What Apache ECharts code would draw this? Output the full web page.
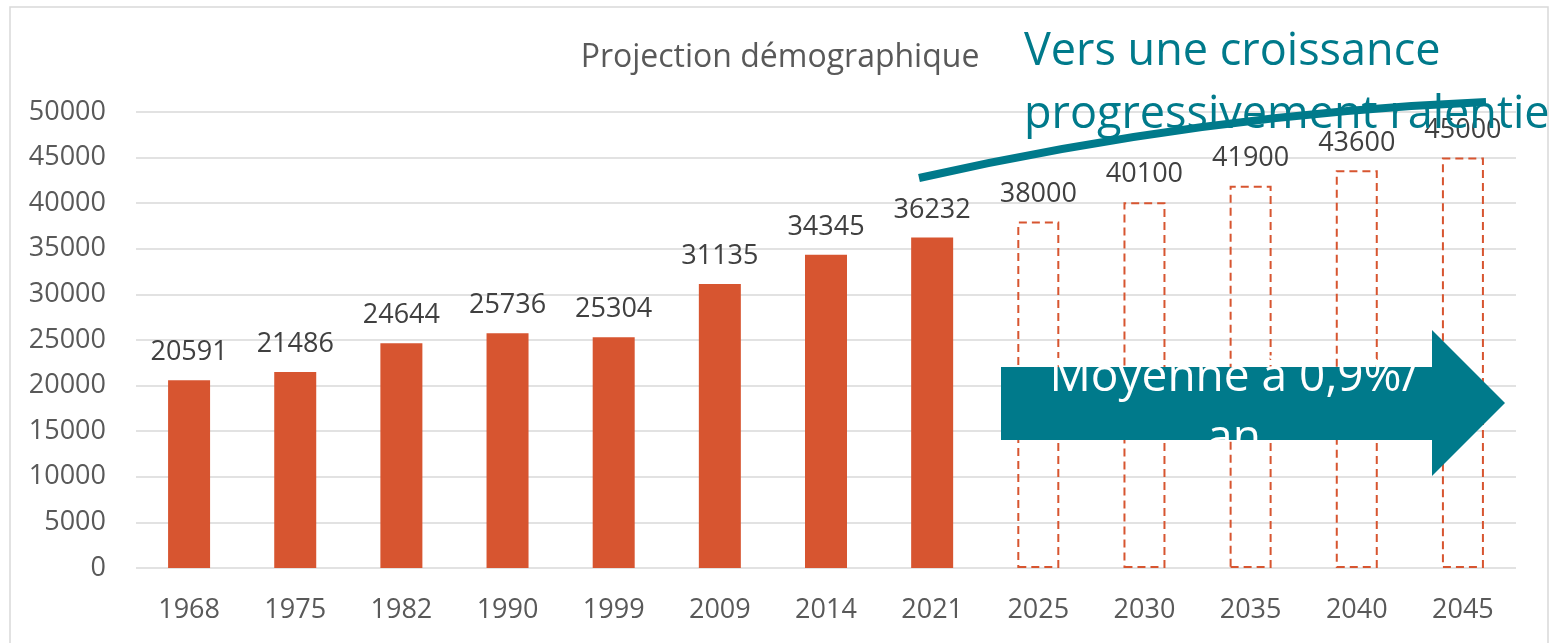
<!DOCTYPE html>
<html>
<head>
<meta charset="utf-8">
<script src="https://cdn.jsdelivr.net/npm/echarts@6/dist/echarts.min.js"></script>
<style>
html,body{margin:0;padding:0;background:#fff;}
#chart{width:1560px;height:643px;}
</style>
</head>
<body>
<div id="chart"></div>
<script>
// ---- data ----
var years = ['1968','1975','1982','1990','1999','2009','2014','2021','2025','2030','2035','2040','2045'];
var historique = [20591, 21486, 24644, 25736, 25304, 31135, 34345, 36232];
var projection = [38000, 40100, 41900, 43600, 45000];
var yTicks = { min: 0, max: 50000, interval: 5000 };
var titleText = 'Projection démographique';
var noteLines = ['Vers une croissance', 'progressivement ralentie'];
var arrowLines = ['Moyenne à 0,9%/', 'an'];

// ---- build series data ----
var histData = years.map(function (y, i) { return i < historique.length ? historique[i] : '-'; });
var projData = years.map(function (y, i) {
  var j = i - historique.length;
  return j >= 0 ? projection[j] : '-';
});

var RED = '#D75530';
var TEAL = '#007A8B';
var FONT = 'Open Sans';

var chart = echarts.init(document.getElementById('chart'), null, { renderer: 'canvas' });

var option = {
  backgroundColor: '#fff',
  animation: false,
  title: {
    text: titleText,
    left: 'center',
    top: 37,
    textStyle: { fontFamily: FONT, fontSize: 32, fontWeight: 'normal', color: '#595959' }
  },
  grid: { left: 136, top: 112, width: 1380, height: 456, containLabel: false },
  xAxis: {
    type: 'category',
    data: years,
    axisLine: { show: false },
    axisTick: { show: false },
    axisLabel: { fontFamily: FONT, fontSize: 27, color: '#595959', margin: 29 }
  },
  yAxis: {
    type: 'value',
    min: yTicks.min, max: yTicks.max, interval: yTicks.interval,
    axisLine: { show: false },
    axisTick: { show: false },
    axisLabel: {
      fontFamily: FONT, fontSize: 27, color: '#595959', margin: 30,
      formatter: function (v) { return String(v); }
    },
    splitLine: { lineStyle: { color: '#D9D9D9', width: 1.5 } }
  },
  series: [
    {
      name: 'Historique',
      type: 'bar',
      stack: 'pop',
      data: histData,
      barWidth: 42,
      itemStyle: { color: RED },
      label: { show: true, position: 'top', distance: 14, fontFamily: FONT, fontSize: 27, color: '#404040' }
    },
    {
      name: 'Projection',
      type: 'bar',
      stack: 'pop',
      data: projData,
      barWidth: 42,
      itemStyle: { color: 'rgba(255,255,255,0)', borderColor: RED, borderWidth: 2, borderType: [8, 5] },
      label: { show: true, position: 'top', distance: 14, fontFamily: FONT, fontSize: 27, color: '#404040' }
    }
  ],
  graphic: [
    {
      type: 'rect', silent: true, z: 0,
      shape: { x: 10, y: 7, width: 1538, height: 700 },
      style: { fill: 'none', stroke: '#D9D9D9', lineWidth: 1.5 }
    },
    {
      type: 'polygon', z: 100,
      shape: { points: [[1001, 367], [1432, 367], [1432, 330], [1505, 403], [1432, 476], [1432, 440], [1001, 440]] },
      style: { fill: TEAL }
    },
    {
      type: 'text', z: 101,
      x: 1234, y: 355,
      style: { text: arrowLines[0], fontFamily: FONT, fontSize: 46, fill: '#fff', align: 'center', verticalAlign: 'top' }
    },
    {
      type: 'text', z: 101,
      x: 1234, y: 416,
      style: { text: arrowLines[1], fontFamily: FONT, fontSize: 46, fill: '#fff', align: 'center', verticalAlign: 'top' }
    },
    {
      type: 'text', z: 102,
      x: 1024, y: 30,
      style: { text: noteLines[0], fontFamily: FONT, fontSize: 45, fill: TEAL, align: 'left', verticalAlign: 'top' }
    },
    {
      type: 'text', z: 102,
      x: 1024, y: 93,
      style: { text: noteLines[1], fontFamily: FONT, fontSize: 45, fill: TEAL, align: 'left', verticalAlign: 'top' }
    },
    {
      type: 'bezierCurve', z: 103,
      shape: { x1: 919, y1: 178, cpx1: 1202, cpy1: 114, x2: 1486, y2: 102 },
      style: { stroke: TEAL, lineWidth: 8, fill: 'none' }
    }
  ]
};
chart.setOption(option);
</script>
</body>
</html>
